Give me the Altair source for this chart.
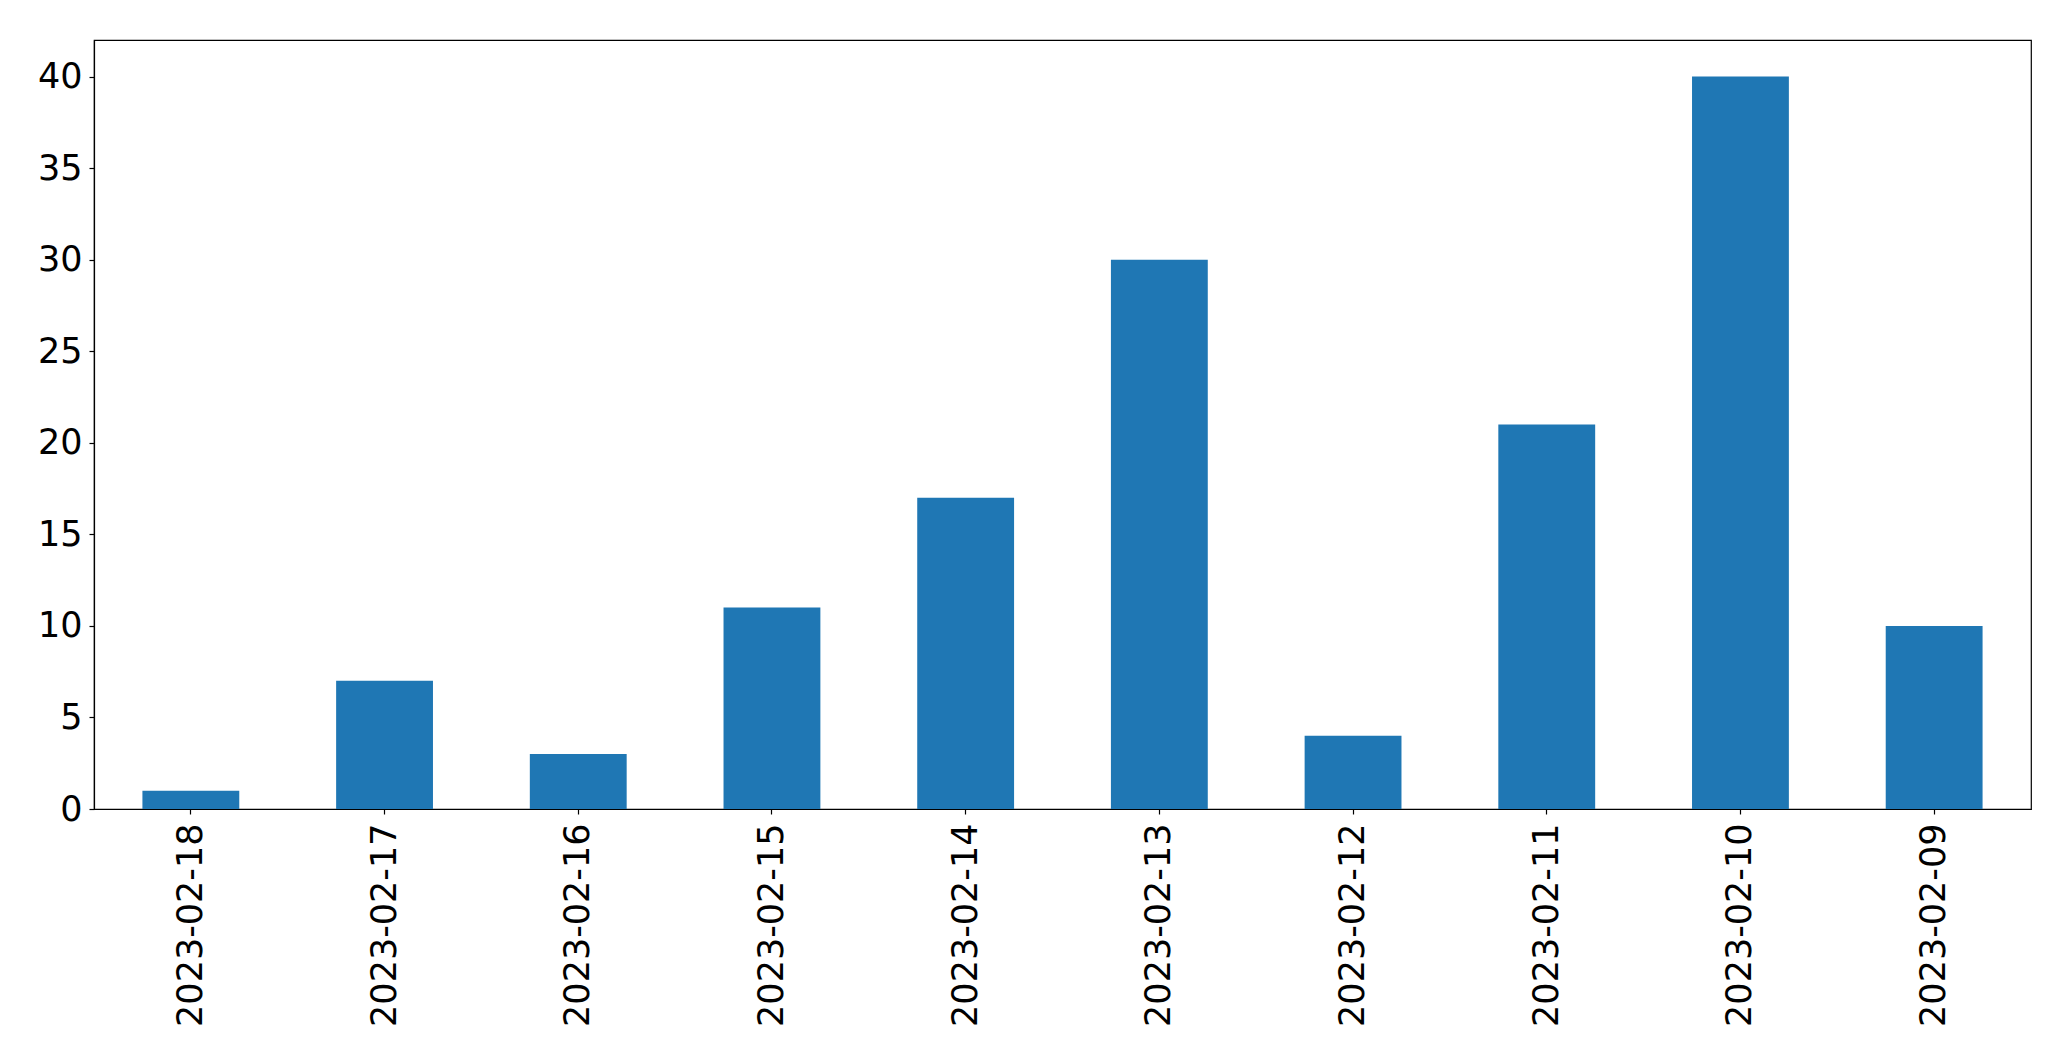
import altair as alt
import pandas as pd

dates = ["2023-02-18", "2023-02-17", "2023-02-16", "2023-02-15", "2023-02-14",
         "2023-02-13", "2023-02-12", "2023-02-11", "2023-02-10", "2023-02-09"]
counts = [1, 7, 3, 11, 17, 30, 4, 21, 40, 10]
y_ticks = [0, 5, 10, 15, 20, 25, 30, 35, 40]

df = pd.DataFrame({"date": dates, "count": counts})

chart = alt.Chart(df).mark_bar(color="#1f77b4").encode(
    x=alt.X("date:N", sort=dates, title=None,
            scale=alt.Scale(paddingInner=0.5, paddingOuter=0.25),
            axis=alt.Axis(labelAngle=-90, labelFont="DejaVu Sans", labelFontSize=35,
                          labelLimit=0,
                          labelColor="black", tickColor="black", domainColor="black",
                          tickSize=5, labelPadding=9, domainWidth=1.2, tickWidth=1.2)),
    y=alt.Y("count:Q", title=None,
            scale=alt.Scale(domain=[0, 42], nice=False),
            axis=alt.Axis(values=y_ticks, grid=False, labelFont="DejaVu Sans", labelFontSize=35,
                          labelColor="black", tickColor="black", domainColor="black",
                          tickSize=5, labelPadding=7, domainWidth=1.2, tickWidth=1.2)),
).properties(
    width=1937, height=769,
    autosize=alt.AutoSizeParams(type="none"),
    padding={"left": 86, "top": 32, "right": 30, "bottom": 230},
).configure_view(
    stroke="black", strokeWidth=1.2
)

chart.save("out.html", embed_options={"renderer": "svg", "actions": False})
